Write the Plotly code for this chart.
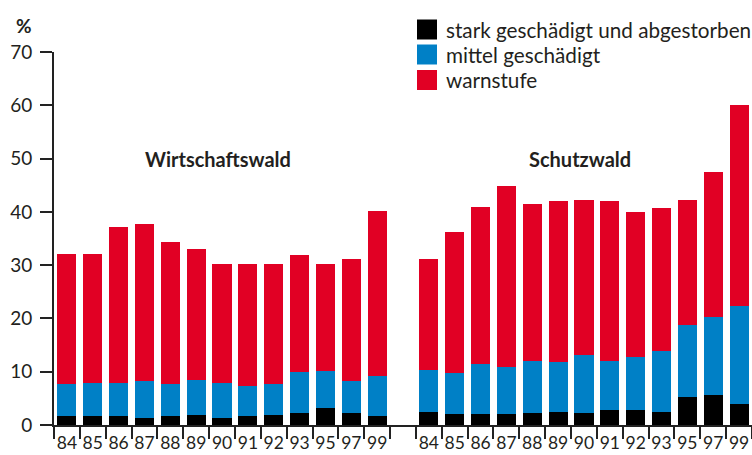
import plotly.graph_objects as go

years = ["84", "85", "86", "87", "88", "89", "90", "91", "92", "93", "95", "97", "99"]
group_names = ["Wirtschaftswald", "Schutzwald"]
series_names = ["stark geschädigt und abgestorben", "mittel geschädigt", "warnstufe"]
colors = ["#000000", "#0080C6", "#E10024"]

# Wirtschaftswald (percent per segment)
w_stark = [1.6, 1.7, 1.7, 1.4, 1.6, 1.9, 1.4, 1.7, 1.9, 2.3, 3.2, 2.3, 1.7]
w_mittel = [6.1, 6.2, 6.2, 6.8, 6.1, 6.5, 6.5, 5.7, 5.8, 7.7, 7.0, 5.9, 7.5]
w_warn = [24.3, 24.1, 29.2, 29.5, 26.6, 24.6, 22.3, 22.8, 22.5, 21.9, 20.0, 22.9, 30.9]

# Schutzwald
s_stark = [2.4, 2.1, 2.1, 2.1, 2.2, 2.4, 2.2, 2.8, 2.8, 2.4, 5.2, 5.6, 3.9]
s_mittel = [8.0, 7.6, 9.4, 8.8, 9.8, 9.5, 10.9, 9.2, 9.9, 11.5, 13.5, 14.6, 18.5]
s_warn = [20.7, 26.5, 29.4, 33.9, 29.4, 30.1, 29.1, 30.0, 27.2, 26.8, 23.5, 27.2, 37.6]

n = len(years)
gap = 1
x_w = list(range(n))
x_s = [n + gap + i for i in range(n)]
x_all = x_w + x_s
series = [w_stark + s_stark, w_mittel + s_mittel, w_warn + s_warn]

FONT = "Lato"
TXT = "#231f20"

# layout geometry (pixels)
W, H = 752, 455
ML, MR, MT, MB = 54, 0, 52, 30
PW = W - ML - MR

fig = go.Figure()
for name, vals, col in zip(series_names, series, colors):
    fig.add_trace(go.Bar(x=x_all, y=vals, name=name, marker=dict(color=col, line=dict(width=0)),
                         showlegend=False, width=0.74))

boundaries = [v - 0.5 for v in x_w] + [x_w[-1] + 0.5] + [v - 0.5 for v in x_s] + [x_s[-1] + 0.5]

# manual legend (keys as pixel-sized shapes, labels as annotations)
legend_key_x = (427 - ML) / PW
legend_text_x = (447 - ML) / PW
row_offsets = [MT - 29.5, MT - 54.5, MT - 80]  # pixels above plot top
shapes = []
annotations = []
for name, col, off in zip(series_names, colors, row_offsets):
    shapes.append(dict(type="rect", xref="paper", yref="paper", xsizemode="pixel",
                       ysizemode="pixel", xanchor=legend_key_x, yanchor=1,
                       x0=-10, x1=10, y0=off - 10, y1=off + 10,
                       fillcolor=col, line=dict(width=0)))
    annotations.append(dict(text=name, xref="paper", yref="paper", x=legend_text_x, y=1,
                            yshift=off, xshift=-3, xanchor="left", yanchor="middle",
                            showarrow=False, font=dict(family=FONT, size=20.7, color=TXT)))

annotations += [
    dict(text="<b>%</b>", xref="paper", yref="paper", x=0, y=1, xshift=-40, yshift=27,
         xanchor="left", yanchor="middle", showarrow=False,
         font=dict(family=FONT, size=19, color=TXT)),
    dict(text="<b>" + group_names[0] + "</b>", x=(x_w[0] + x_w[-1]) / 2, y=50, xshift=-4,
         xref="x", yref="y", showarrow=False, xanchor="center", yanchor="middle",
         font=dict(family=FONT, size=20, color=TXT)),
    dict(text="<b>" + group_names[1] + "</b>", x=(x_s[0] + x_s[-1]) / 2, y=50, xshift=-4,
         xref="x", yref="y", showarrow=False, xanchor="center", yanchor="middle",
         font=dict(family=FONT, size=20, color=TXT)),
]

fig.update_layout(
    barmode="stack",
    width=W, height=H,
    margin=dict(l=ML, r=MR, t=MT, b=MB, autoexpand=False),
    paper_bgcolor="white", plot_bgcolor="white",
    font=dict(family=FONT, size=19, color=TXT),
    showlegend=False,
    xaxis=dict(range=[-0.5, x_s[-1] + 0.5], tickmode="array", tickvals=x_all,
               ticktext=years + years, ticks="", showgrid=False, zeroline=False,
               showline=True, linecolor="#222", linewidth=2, ticklabelstandoff=1,
               automargin=False,
               tickfont=dict(family=FONT, size=17.5, color=TXT),
               minor=dict(tickmode="array", tickvals=boundaries, ticks="outside",
                          ticklen=12, tickwidth=2, tickcolor="#222", showgrid=False)),
    yaxis=dict(range=[0, 70], tickvals=[0, 10, 20, 30, 40, 50, 60, 70], ticks="outside",
               ticklen=12, tickwidth=2, tickcolor="#222", showline=True, linecolor="#222",
               linewidth=2, showgrid=False, zeroline=False, ticklabelstandoff=4,
               automargin=False,
               tickfont=dict(family=FONT, size=19, color=TXT)),
    shapes=shapes,
    annotations=annotations,
)

fig.write_html("out.html", post_script="document.body.style.margin='0';",
               config={"displayModeBar": False})
